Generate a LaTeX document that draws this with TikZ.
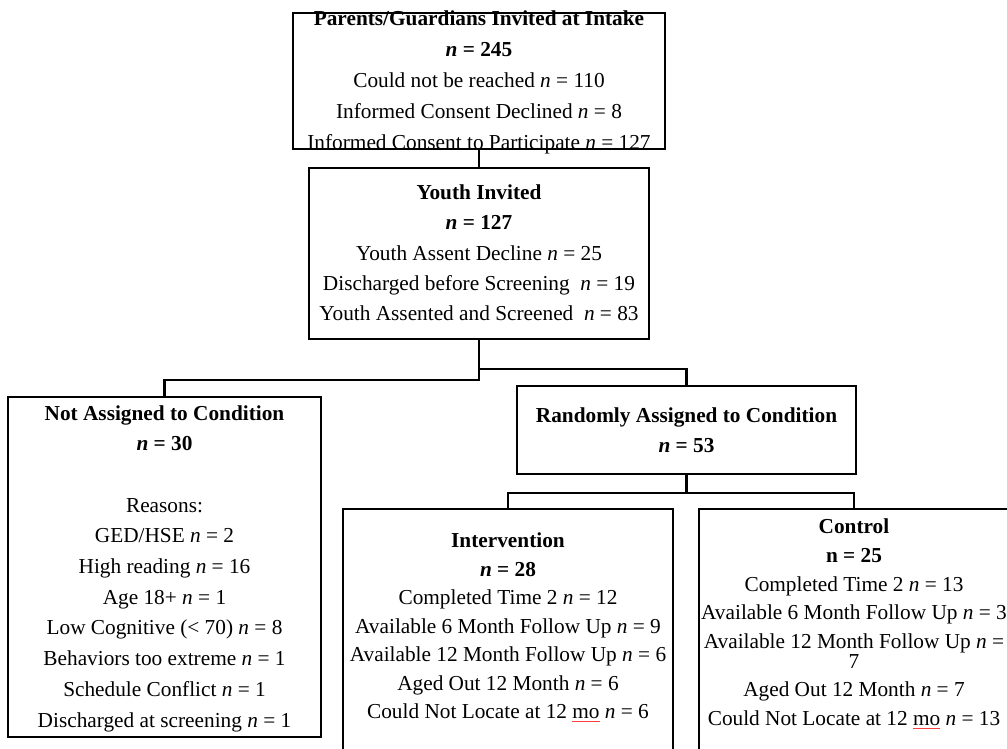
\documentclass[tikz,border=0pt]{standalone}
\usepackage{fontspec}
\setmainfont{Liberation Serif}
\usetikzlibrary{calc}
\tikzset{
    block/.style = {draw, rectangle, line width=2.5pt, inner sep=0pt},
    blocktext/.style = {align=center, inner sep=0pt,
        font=\fontsize{21.3}{#1}\selectfont},
    blocktext/.default = 30,
    link/.style = {draw, line width=2.5pt}
}
\newcommand{\Nv}{\textit{n}}
\newcommand{\spellmark}[1]{\setbox0\hbox{#1}\rlap{\textcolor{red!75}{\rule[-3.5pt]{\wd0}{0.9pt}}}\box0\relax}

\begin{document}
\begin{tikzpicture}[x=1pt, y=-1pt]
    \useasboundingbox (0,0) rectangle (1007,749);
    \node [block, minimum width=372pt, minimum height=136pt] (intake) at (479,81) {};
    \node [block, minimum width=340pt, minimum height=171pt] (youth) at (479,253.5) {};
    \node [block, minimum width=313pt, minimum height=340pt] (notasg) at (164.5,567) {};
    \node [block, minimum width=339pt, minimum height=88pt] (random) at (686.5,430) {};
    \node [block, minimum width=330pt, minimum height=291pt] (interv) at (508,654.5) {};
    \node [block, minimum width=310pt, minimum height=291pt] (control) at (854,654.5) {};
    \node [blocktext=31] (intake-t) at ($(intake.center)+(0,1)$) {\textbf{Parents/Guardians Invited at Intake}\\
        \textbf{\Nv{} = 245}\\ Could not be reached \Nv{} = 110\\ Informed Consent Declined \Nv{} = 8\\
        Informed Consent to Participate \Nv{} = 127};
    \node [blocktext=30.3] (youth-t) at ($(youth.center)+(0,-0.5)$) {\textbf{Youth Invited}\\ \textbf{\Nv{} = 127}\\
        Youth Assent Decline \Nv{} = 25\\ Discharged before Screening\ \ \Nv{} = 19\\
        Youth Assented and Screened\ \ \Nv{} = 83};
    \node [blocktext=30.7] (notasg-t) at ($(notasg.center)+(0,1.5)$) {\textbf{Not Assigned to Condition}\\
        \textbf{\Nv{} = 30}\\[30.7pt] Reasons:\\ GED/HSE \Nv{} = 2\\ High reading \Nv{} = 16\\ Age 18+ \Nv{} = 1\\
        Low Cognitive (< 70) \Nv{} = 8\\ Behaviors too extreme \Nv{} = 1\\ Schedule Conflict \Nv{} = 1\\
        Discharged at screening \Nv{} = 1};
    \node [blocktext] (random-t) at (random.center) {\textbf{Randomly Assigned to Condition}\\
        \textbf{\Nv{} = 53}};
    \node [blocktext=28.5] (interv-t) at (508,627.5) {\textbf{Intervention}\\ \textbf{\Nv{} = 28}\\
        Completed Time 2 \Nv{} = 12\\ Available 6 Month Follow Up \Nv{} = 9\\ Available 12 Month Follow Up \Nv{} = 6\\
        Aged Out 12 Month \Nv{} = 6\\ Could Not Locate at 12 \spellmark{mo} \Nv{} = 6};
    \node [blocktext=28.7] (control-t) at (854,624) {\textbf{Control}\\ \textbf{n = 25}\\
        Completed Time 2 \Nv{} = 13\\ Available 6 Month Follow Up \Nv{} = 3\\ Available 12 Month Follow Up \Nv{} =\\[-9pt] 7\\
        Aged Out 12 Month \Nv{} = 7\\ Could Not Locate at 12 \spellmark{mo} \Nv{} = 13};
    \coordinate (forkl) at (479,380);
    \coordinate (forkr) at (479,369);
    \coordinate (split) at (686.5,493);
    \draw [link] (intake.south) -- (youth.north);
    \draw [link] (youth.south) -- (forkl) -| (notasg.north);
    \draw [link] (forkr) -| (random.north);
    \draw [link] (random.south) -- (split) -| (interv.north);
    \draw [link] (split) -| (control.north);
\end{tikzpicture}
\end{document}
